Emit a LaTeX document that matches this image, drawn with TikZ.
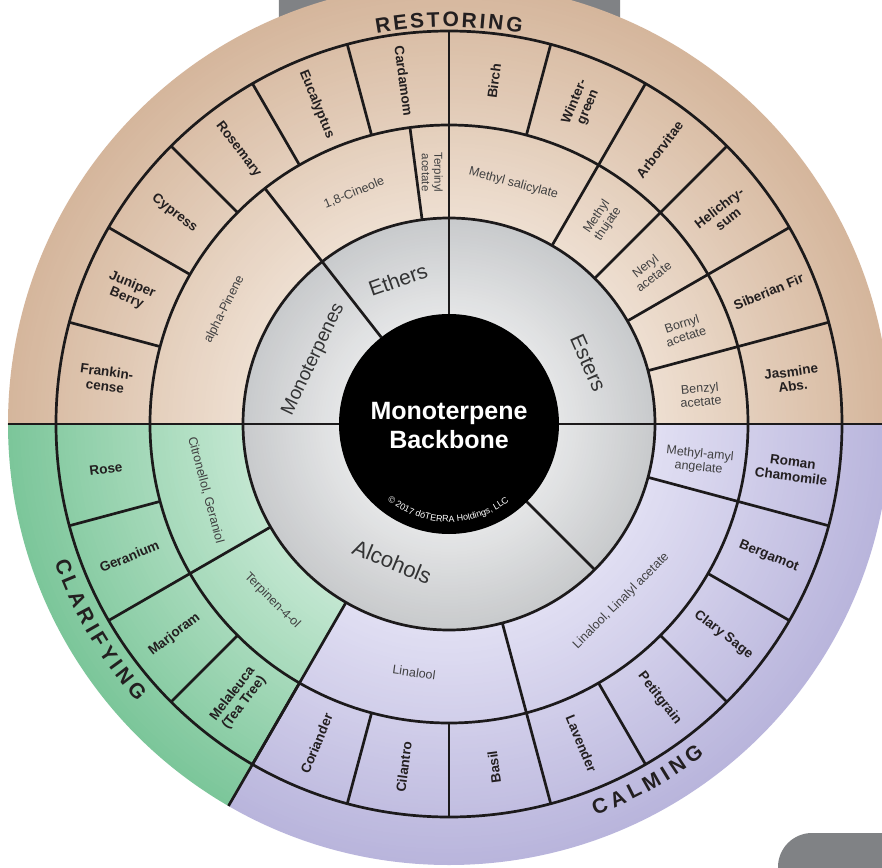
\documentclass[tikz,border=0pt]{standalone}
\usepackage{fontspec}
\setmainfont{Liberation Sans}
\usetikzlibrary{decorations.text}
\definecolor{tanB}{HTML}{EEDFD1}
\definecolor{tanE}{HTML}{D5B69C}
\definecolor{grnB}{HTML}{C3E7D1}
\definecolor{grnE}{HTML}{7CC69A}
\definecolor{purB}{HTML}{E1DFF3}
\definecolor{purE}{HTML}{B9B5DC}
\definecolor{gryA}{HTML}{E5E6E7}
\definecolor{gryB}{HTML}{C8CACC}
\definecolor{tabc}{HTML}{808285}
\definecolor{linec}{HTML}{1C1A1B}
\definecolor{oilc}{HTML}{231F20}
\definecolor{cmpc}{HTML}{404041}
\definecolor{grpc}{HTML}{333334}
\begin{document}
\begin{tikzpicture}[x=1pt,y=1pt,
  wl/.style={line width=2.7pt, draw=linec},
  oil/.style={font=\bfseries\fontsize{13.5}{14.5}\selectfont, text=oilc, align=center, inner sep=0pt},
  cmp/.style={font=\fontsize{12.5}{13.5}\selectfont, text=cmpc, align=center, inner sep=0pt},
  grp/.style={font=\fontsize{21}{22}\selectfont, text=grpc, inner sep=0pt},
  bandl/.style={font=\bfseries\fontsize{21}{21}\selectfont, text=oilc, anchor=base, inner sep=0pt}]
\useasboundingbox (-449,-443) rectangle (433,424);
\clip (-449,-443) rectangle (433,424);
\fill[white] (-449,-443) rectangle (433,424);
% gray tabs
\fill[tabc, rounded corners=11pt] (-170,396) rectangle (171,440);
\fill[tabc, rounded corners=34pt] (329,-409) rectangle (480,-490);
% sectors with radial gradients (concentric fills)
\begin{scope}
\clip (0,0) -- (0:445) arc[start angle=0, end angle=180, radius=445] -- cycle;
\foreach \r in {441,437,...,206} {\pgfmathsetmacro\p{(\r-206)/2.35} \fill[tanE!\p!tanB] (0,0) circle (\r);}
\end{scope}
\begin{scope}
\clip (0,0) -- (180:445) arc[start angle=180, end angle=240, radius=445] -- cycle;
\foreach \r in {441,437,...,206} {\pgfmathsetmacro\p{(\r-206)/2.35} \fill[grnE!\p!grnB] (0,0) circle (\r);}
\end{scope}
\begin{scope}
\clip (0,0) -- (240:445) arc[start angle=240, end angle=360, radius=445] -- cycle;
\foreach \r in {441,437,...,206} {\pgfmathsetmacro\p{(\r-206)/2.35} \fill[purE!\p!purB] (0,0) circle (\r);}
\end{scope}
\foreach \r in {206,203,...,110} {\pgfmathsetmacro\p{(\r-110)/0.96} \fill[gryB!\p!gryA] (0,0) circle (\r);}
% ring circles
\draw[wl] (0,0) circle (206);
\draw[wl] (0,0) circle (299);
\draw[wl] (0,0) circle (393);
% radial lines
\foreach \a in {0,15,...,345} \draw[wl] (\a:299) -- (\a:393);
\foreach \a in {97.5,60,45,30,15,345,285,210} \draw[wl] (\a:206) -- (\a:299);
\draw[wl] (90:110) -- (90:393);
\draw[wl] (128:110) -- (128:299);
\draw[wl] (315:110) -- (315:206);
\draw[wl] (240:206) -- (240:441);
\draw[wl] (180:110) -- (180:441);
\draw[wl] (0:110) -- (0:441);
% core
\node[circle, fill=black, minimum size=220pt, inner sep=0pt] (core) at (0,0) {};
\node[text=white, font=\bfseries\fontsize{25}{29}\selectfont, align=center, inner sep=0pt] (title) at (0,-1.5) {Monoterpene\\Backbone};
\path[decorate, decoration={text along path, text align=center, text={|\fontsize{9}{9}\selectfont\color{white}|© 2017 dōTERRA Holdings, LLC}}] (195:98) arc[start angle=195, end angle=344, radius=98];
% group labels
\node[grp, rotate=19.5] (ethe) at (109.5:153) {Ethers};
\node[grp, rotate=-66] (este) at (23.7:152) {Esters};
\node[grp, rotate=64.5, font=\fontsize{19}{20}\selectfont] (mono) at (154.5:150) {Monoterpenes};
\node[grp, rotate=-22.5, font=\fontsize{22}{23}\selectfont] (alco) at (247.6:149) {Alcohols};
% compound labels
\node[cmp, rotate=63] (apin) at (153:252) {alpha-Pinene};
\node[cmp, rotate=22] (cine) at (112.3:250) {1,8-Cineole};
\node[cmp, rotate=-90, font=\fontsize{11.5}{12.5}\selectfont] (terp) at (93.8:252) {Terpinyl\\acetate};
\node[cmp, rotate=-15] (msal) at (75:249) {Methyl salicylate};
\node[cmp, rotate=56] (mthu) at (53:255) {Methyl\\thujate};
\node[cmp, rotate=38] (nery) at (37.3:252) {Neryl\\acetate};
\node[cmp, rotate=18] (born) at (21.8:253) {Bornyl\\acetate};
\node[cmp, rotate=5] (benz) at (6.6:253) {Benzyl\\acetate};
\node[cmp, rotate=-6] (mamy) at (-8.4:253) {Methyl-amyl\\angelate};
\node[cmp, rotate=45] (lla) at (-45.8:247) {Linalool, Linalyl acetate};
\node[cmp, rotate=-8] (lina) at (262:251) {Linalool};
\node[cmp, rotate=-45] (tfol) at (225:250) {Terpinen-4-ol};
\node[cmp, rotate=-75] (cige) at (195.2:252) {Citronellol, Geraniol};
% oil labels
\foreach \a/\r/\t [count=\i] in {
 7.5/7.5/{Jasmine\\Abs.},
 22.5/22.5/{Siberian Fir},
 37.5/37.5/{Helichry-\\sum},
 52.5/52.5/Arborvitae,
 67.5/67.5/{Winter-\\green},
 82.5/82.5/Birch,
 97.5/-82.5/Cardamom,
 112.5/-67.5/Eucalyptus,
 127.5/-52.5/Rosemary,
 142.5/-37.5/Cypress,
 157.5/-22.5/{Juniper\\Berry},
 172.5/-7.5/{Frankin-\\cense},
 187.5/7.5/Rose,
 202.5/22.5/Geranium,
 217.5/37.5/Marjoram,
 232.5/52.5/{Melaleuca\\(Tea Tree)},
 247.5/67.5/Coriander,
 262.5/82.5/Cilantro,
 277.5/97.5/Basil,
 292.5/-67.5/Lavender,
 307.5/-52.5/Petitgrain,
 322.5/-37.5/{Clary Sage},
 337.5/-22.5/Bergamot,
 352.5/-7.5/{Roman\\Chamomile}}
 \node[oil, rotate=\r] (oil\i) at (\a:346) {\t};
% band labels
\foreach \a/\l [count=\i] in {99.42/R,96.94/E,94.55/S,92.23/T,89.75/O,87.11/R,85.21/I,83.31/N,80.66/G}
  \node[bandl, rotate=\a-90] (rest\i) at (\a:397) {\l};
\foreach \a/\l [count=\i] in {291.55/C,294.26/A,296.80/L,299.51/M,301.72/I,303.78/N,306.57/G}
  \node[bandl, rotate=\a+90] (calm\i) at (\a:418) {\l};
\foreach \a/\l [count=\i] in {200.33/C,202.79/L,205.25/A,207.87/R,209.84/I,211.65/F,214.02/Y,215.91/I,217.88/N,220.59/G}
  \node[bandl, rotate=\a+90] (clar\i) at (\a:418) {\l};
\end{tikzpicture}
\end{document}
